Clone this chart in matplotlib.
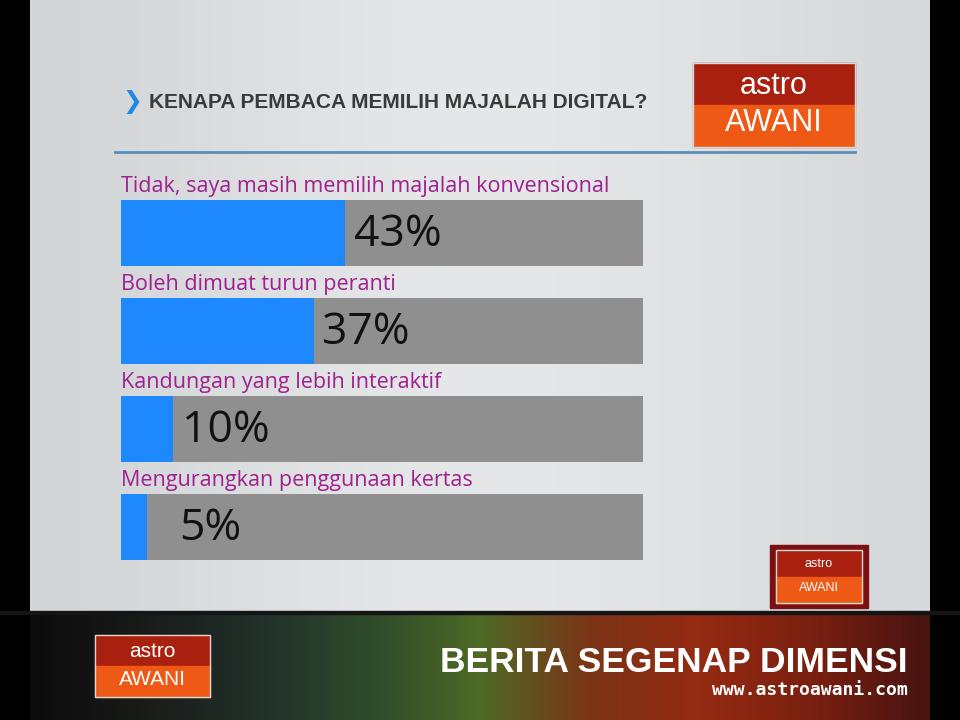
import matplotlib.pyplot as plt
from matplotlib.patches import Rectangle
from matplotlib.colors import LinearSegmentedColormap
import numpy as np

categories = ["Tidak, saya masih memilih majalah konvensional",
              "Boleh dimuat turun peranti",
              "Kandungan yang lebih interaktif",
              "Mengurangkan penggunaan kertas"]
values = [43, 37, 10, 5]
title = "KENAPA PEMBACA MEMILIH MAJALAH DIGITAL?"

W, H = 960, 720
fig = plt.figure(figsize=(9.6, 7.2), dpi=100)
fig.patch.set_facecolor("black")

# full-figure overlay in pixel coordinates (y downwards)
bg = fig.add_axes([0, 0, 1, 1])
bg.set_xlim(0, W)
bg.set_ylim(H, 0)
bg.axis("off")

# light panel
panel_cmap = LinearSegmentedColormap.from_list("panel", ["#d3d6d8", "#e6e8e9"])
panel = np.array([[0.0, 0.7, 1.0, 0.8, 0.2]])
bg.imshow(panel, cmap=panel_cmap, vmin=0, vmax=1, extent=(30, 930, 612, 0),
          aspect="auto", interpolation="bicubic", zorder=0)

# bottom band
band_cmap = LinearSegmentedColormap.from_list(
    "band", ["#0c0c0c", "#1a1c1a", "#22302a", "#2e4a2a", "#4d6a26",
             "#7a3416", "#952a12", "#7a2010", "#4a1410"])
band = np.linspace(0, 1, 60).reshape(1, -1)
bg.imshow(band, cmap=band_cmap, extent=(30, 930, 720, 614), aspect="auto",
          interpolation="bicubic", zorder=0)
bg.add_patch(Rectangle((0, 611), W, 3, color="#151515", zorder=1))


def logo(ax, x, y, w, h, s):
    ax.add_patch(Rectangle((x, y), w, h * 0.5, color="#a9200f", zorder=2))
    ax.add_patch(Rectangle((x, y + h * 0.5), w, h * 0.5, color="#ee5a16", zorder=2))
    ax.add_patch(Rectangle((x, y), w, h, fill=False, ec="#d8d8d8", lw=1, zorder=3))
    ax.text(x + w / 2, y + h * 0.27, "astro", color="white", fontsize=s,
            family="Liberation Sans", ha="center", va="center", zorder=4)
    ax.text(x + w / 2, y + h * 0.72, "AWANI", color="white", fontsize=s,
            family="Liberation Sans", ha="center", va="center", zorder=4)


logo(bg, 693, 63, 162, 84, 22)
bg.add_patch(Rectangle((770, 545), 98, 63, color="#7a1010", zorder=1.5))
logo(bg, 776, 550, 86, 53, 9)
logo(bg, 95, 635, 115, 62, 15)

# title
bg.text(122, 102, "\u276F", color="#1e88e5", fontsize=17, fontweight="bold",
        ha="left", va="center", family="DejaVu Sans")
bg.text(149, 103, title, color="#3a3a3a", fontsize=15, fontweight="bold",
        family="Liberation Sans", ha="left", va="center")
bg.plot([115, 855], [152, 152], color="#5a8fb8", lw=2)

bg.text(908, 663, "BERITA SEGENAP DIMENSI", color="white", fontsize=25.5,
        fontweight="bold", family="Liberation Sans", ha="right", va="center")
bg.text(908, 690, "www.astroawani.com", color="white", fontsize=13,
        fontweight="bold", family="DejaVu Sans Mono", ha="right", va="center")

# bars
ax = fig.add_axes([121 / W, 1 - 560 / H, 522 / W, 360 / H])
ax.patch.set_alpha(0)
y = np.arange(len(categories))
bh = 66 / 98
ax.barh(y, [100] * len(values), height=bh, color="#8f8f8f")
ax.barh(y, values, height=bh, color="#1e88ff")
ax.set_xlim(0, 100)
ax.set_ylim(3 + bh / 2, -bh / 2)
ax.axis("off")
for i, (c, v) in enumerate(zip(categories, values)):
    ax.text(0, i - bh / 2 - 0.03, c, color="#a0208f", fontsize=15.5,
            family="Open Sans", ha="left", va="bottom", clip_on=False)
    ax.text(max(v, 9.6) + 1.6, i + 0.02, f"{v}%", color="#111111", fontsize=32,
            family="Open Sans", ha="left", va="center")

fig.savefig("out.png", dpi=100, facecolor="black")
